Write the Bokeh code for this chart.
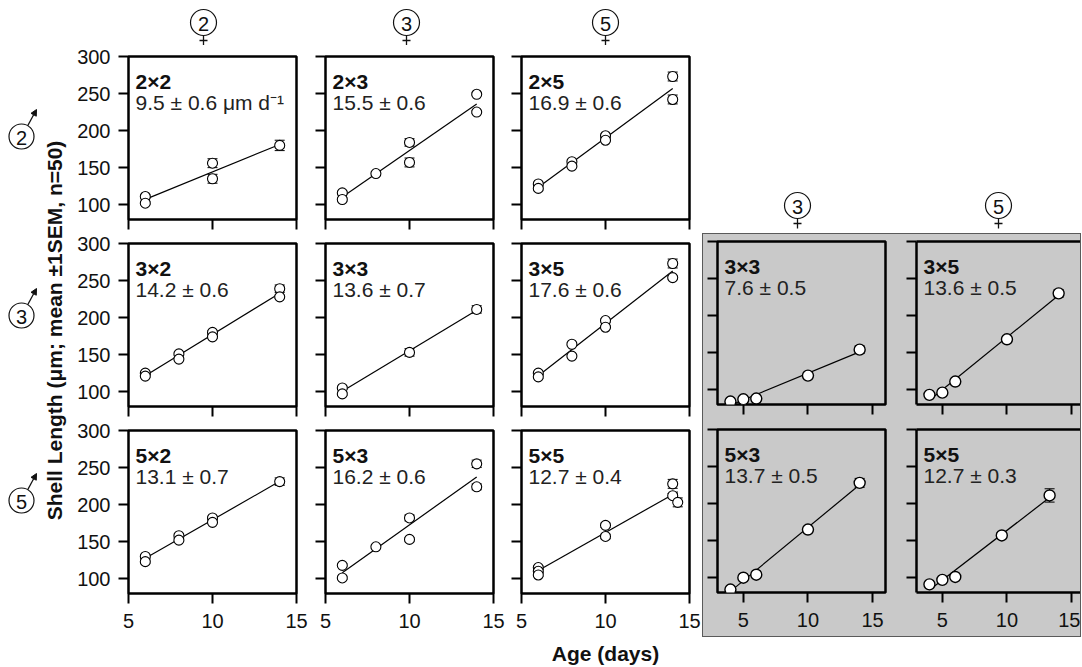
import numpy as np
from bokeh.plotting import figure
from bokeh.models import (Range1d, FixedTicker, ColumnDataSource, Whisker, TeeHead,
                          LinearAxis, Arrow, NormalHead, Spacer)
from bokeh.layouts import row, column
from bokeh.embed import file_html
from bokeh.resources import INLINE
from bokeh.core.properties import value

# ---------------- data (age in days, shell length in um, SEM) ----------------
A_22 = [6, 6, 10, 10, 14]
L_22 = [111, 102, 156, 135, 180]
E_22 = [2, 2, 6, 6, 7]

A_23 = [6, 6, 8, 10, 10, 14, 14]
L_23 = [116, 107, 142, 184, 157, 249, 225]
E_23 = [2, 2, 2, 5, 6, 2, 2]

A_25 = [6, 6, 8, 8, 10, 10, 14, 14]
L_25 = [128, 122, 158, 152, 193, 187, 273, 242]
E_25 = [2, 2, 2, 2, 2, 2, 6, 6]

A_32 = [6, 6, 8, 8, 10, 10, 14, 14]
L_32 = [125, 121, 151, 144, 180, 174, 239, 228]
E_32 = [2, 2, 2, 2, 2, 2, 5, 2]

A_33 = [6, 6, 10, 14]
L_33 = [105, 97, 153, 211]
E_33 = [2, 2, 5, 5]

A_35 = [6, 6, 8, 8, 10, 10, 14, 14]
L_35 = [125, 120, 164, 148, 196, 187, 273, 254]
E_35 = [2, 2, 2, 2, 2, 2, 6, 2]

A_52 = [6, 6, 8, 8, 10, 10, 14]
L_52 = [130, 123, 158, 152, 182, 176, 231]
E_52 = [2, 2, 2, 2, 2, 2, 5]

A_53 = [6, 6, 8, 10, 10, 14, 14]
L_53 = [118, 101, 143, 182, 153, 255, 224]
E_53 = [2, 2, 2, 4, 2, 5, 4]

A_55 = [6, 6, 6, 10, 10, 14, 14, 14.3]
L_55 = [115, 110, 105, 172, 157, 228, 212, 203]
E_55 = [2, 2, 2, 3, 3, 6, 3, 6]

# shaded (second experiment) panels
AG_33 = [4, 5, 6, 10, 14]
LG_33 = [84, 87, 88, 119, 154]
EG_33 = [1, 1, 2, 4, 5]

AG_35 = [4, 5, 6, 10, 14]
LG_35 = [93, 96, 111, 168, 230]
EG_35 = [1, 1, 2, 4, 5]

AG_53 = [4, 5, 6, 10, 14]
LG_53 = [84, 100, 104, 165, 228]
EG_53 = [1, 1, 2, 4, 6]

AG_55 = [4, 5, 6, 9.6, 13.3]
LG_55 = [91, 97, 101, 157, 211]
EG_55 = [1, 1, 2, 4, 9]

NAMES = ["2×2", "2×3", "2×5", "3×2", "3×3", "3×5", "5×2", "5×3", "5×5"]
RATES = ["9.5 ± 0.6 μm d⁻¹", "15.5 ± 0.6", "16.9 ± 0.6", "14.2 ± 0.6", "13.6 ± 0.7",
         "17.6 ± 0.6", "13.1 ± 0.7", "16.2 ± 0.6", "12.7 ± 0.4"]
G_NAMES = ["3×3", "3×5", "5×3", "5×5"]
G_RATES = ["7.6 ± 0.5", "13.6 ± 0.5", "13.7 ± 0.5", "12.7 ± 0.3"]

FEMALE_LEFT = ["2", "3", "5"]
FEMALE_GRAY = ["3", "5"]
MALE = ["2", "3", "5"]

Y_TICKS = [100, 150, 200, 250, 300]
X_TICKS = [5, 10, 15]
Y_LIM = (80, 300)
LEFT_X = (5, 15)
GRAY_X = (3, 16)

Y_TITLE = "Shell Length (μm; mean ±1SEM, n=50)"
X_TITLE = "Age (days)"

# ---------------- styling ----------------
FONT = "Liberation Sans"
INK = "#111111"
GRAY = "#c9c9c9"
FRAME_W, FRAME_H = 168, 163


def style_axis(ax, ticks, show, standoff, line):
    ax.ticker = FixedTicker(ticks=ticks)
    ax.major_tick_in = 0
    ax.major_tick_out = 10
    ax.major_tick_line_width = 2
    ax.major_tick_line_color = "black"
    ax.minor_tick_line_color = None
    ax.axis_line_color = "black" if line else None
    ax.axis_line_width = 2.5
    ax.major_label_text_font = FONT
    ax.major_label_text_font_size = "20px"
    ax.major_label_standoff = standoff
    ax.major_label_text_color = INK if show else None


def panel(ages, lens, sems, name, rate, xlim, frame_w, bl, br, bt, bb,
          ylab=False, xlab=False, gray=False, cut=False):
    bg = GRAY if gray else "white"
    x0 = xlim[0]
    ppx = FRAME_W / (xlim[1] - xlim[0])
    x1 = x0 + frame_w / ppx
    p = figure(width=bl + frame_w + br, height=bt + FRAME_H + bb,
               x_range=Range1d(x0, x1), y_range=Range1d(*Y_LIM),
               output_backend="svg", toolbar_location=None,
               min_border=0, min_border_left=bl, min_border_right=br,
               min_border_top=bt, min_border_bottom=bb,
               background_fill_color=bg, border_fill_color=bg,
               outline_line_color=None if cut else "black", outline_line_width=2.5)
    p.grid.visible = False
    style_axis(p.xaxis[0], X_TICKS, xlab, 10, cut)
    style_axis(p.yaxis[0], Y_TICKS, ylab, 8, cut)
    if cut:
        top = LinearAxis(ticker=FixedTicker(ticks=[]), axis_line_width=2.5,
                         axis_line_color="black", major_label_text_color=None,
                         major_tick_out=0, major_tick_in=0,
                         minor_tick_line_color=None)
        p.add_layout(top, "above")

    a = np.array(ages, dtype=float)
    l = np.array(lens, dtype=float)
    e = np.array(sems, dtype=float)
    src = ColumnDataSource(dict(x=a, y=l, upper=l + e, lower=l - e))
    p.add_layout(Whisker(source=src, base="x", upper="upper", lower="lower",
                         dimension="height", line_color="black", line_width=1,
                         upper_head=TeeHead(size=10, line_color="black", line_width=1),
                         lower_head=TeeHead(size=10, line_color="black", line_width=1),
                         level="underlay"))
    slope, icpt = np.polyfit(a, l, 1)
    xs = np.array([a.min(), a.max()])
    p.line(xs, icpt + slope * xs, line_color="black", line_width=1.2)
    p.scatter("x", "y", source=src, marker="circle", size=11 if gray else 10,
              fill_color="white", line_color="black", line_width=1.4 if gray else 1.1)

    ppy = FRAME_H / (Y_LIM[1] - Y_LIM[0])
    tx = x0 + 7 / ppx
    p.text(x=[tx], y=[Y_LIM[1] - 25 / ppy], text=[name], text_font=value(FONT),
           text_font_style="bold", text_font_size="21px", text_color=INK,
           text_align="left", text_baseline="alphabetic")
    p.text(x=[tx], y=[Y_LIM[1] - 46 / ppy], text=[rate], text_font=value(FONT),
           text_font_size="21px", text_color="#222222",
           text_align="left", text_baseline="alphabetic")
    return p


def blank(w, h):
    p = figure(width=w, height=h, x_range=Range1d(0, w), y_range=Range1d(h, 0),
               output_backend="svg", toolbar_location=None, min_border=0,
               outline_line_color=None, background_fill_color="white",
               border_fill_color="white", x_axis_type=None, y_axis_type=None)
    p.grid.visible = False
    return p


def female(p, cx, cy, num):
    r = 13
    p.scatter([cx], [cy], marker="circle", size=2 * r, fill_color=None,
              line_color=INK, line_width=1.2)
    p.text([cx], [cy + 1], [num], text_align="center", text_baseline="middle",
           text_font=value(FONT), text_font_size="20px", text_color=INK)
    p.segment([cx, cx - 4], [cy + r, cy + r + 5], [cx, cx + 4], [cy + r + 10, cy + r + 5],
              line_color=INK, line_width=1.3)


def male(p, cx, cy, num):
    r = 12.5
    p.scatter([cx], [cy], marker="circle", size=2 * r, fill_color=None,
              line_color=INK, line_width=1.2)
    p.text([cx], [cy + 1], [num], text_align="center", text_baseline="middle",
           text_font=value(FONT), text_font_size="20px", text_color=INK)
    p.add_layout(Arrow(end=NormalHead(size=6, fill_color=INK, line_color=INK),
                       x_start=cx + r * 0.5, y_start=cy - r * 0.87,
                       x_end=cx + 15, y_end=cy - 27, line_color=INK, line_width=1.2))


# ---------------- left block: 3 x 3 ----------------
LEFT_DATA = [(A_22, L_22, E_22), (A_23, L_23, E_23), (A_25, L_25, E_25),
             (A_32, L_32, E_32), (A_33, L_33, E_33), (A_35, L_35, E_35),
             (A_52, L_52, E_52), (A_53, L_53, E_53), (A_55, L_55, E_55)]
COL_BORDERS = [(58, 15), (14, 14), (14, 14)]
ROW_BORDERS = [(11, 11), (13, 11), (13, 44)]

rows = []
for r in range(3):
    figs = []
    for c in range(3):
        k = r * 3 + c
        a, l, e = LEFT_DATA[k]
        bl, br = COL_BORDERS[c]
        bt, bb = ROW_BORDERS[r]
        figs.append(panel(a, l, e, NAMES[k], RATES[k], LEFT_X, FRAME_W, bl, br, bt, bb,
                          ylab=(c == 0), xlab=(r == 2)))
    rows.append(row(*figs, spacing=0))

T = blank(633, 45)
for cx, num in zip([133, 336, 535], FEMALE_LEFT):
    female(T, cx, 22, num)

# strip under the bottom row carrying the x-axis title (centred on column 3)
B = blank(633, 29)
B.text([535], [16], [X_TITLE], text_align="center", text_baseline="alphabetic",
       text_font=value(FONT), text_font_style="bold", text_font_size="21px",
       text_color=INK)

left_block = column(T, *rows, B, spacing=0)

# ---------------- shaded block: 2 x 2 ----------------
GRAY_DATA = [(AG_33, LG_33, EG_33), (AG_35, LG_35, EG_35),
             (AG_53, LG_53, EG_53), (AG_55, LG_55, EG_55)]
G_COLS = [(14, 16, FRAME_W, False), (15, 0, 164, True)]
G_ROWS = [(7, 19), (6, 44)]
g_rows = []
for r in range(2):
    figs = []
    for c in range(2):
        k = r * 2 + c
        a, l, e = GRAY_DATA[k]
        bl, br, fw, cut = G_COLS[c]
        bt, bb = G_ROWS[r]
        figs.append(panel(a, l, e, G_NAMES[k], G_RATES[k], GRAY_X, fw, bl, br, bt, bb,
                          ylab=False, xlab=(r == 1), gray=True, cut=cut))
    g_rows.append(row(*figs, spacing=0, styles={"background-color": GRAY}))

gray_block = column(*g_rows, spacing=0,
                    styles={"outline": "1px solid #5a5a5a", "background-color": GRAY})

TR = blank(377, 234)
for cx, num in zip([94, 295], FEMALE_GRAY):
    female(TR, cx, 205, num)

right_block = column(TR, gray_block, Spacer(width=377, height=30), spacing=0)

# ---------------- left strip: male symbols and y title ----------------
L = blank(70, 666)
for cy, num in zip([136, 315, 500], MALE):
    male(L, 21, cy, num)
L.text([54], [330], [Y_TITLE], angle=np.pi / 2, text_align="center",
       text_baseline="middle", text_font=value(FONT), text_font_style="bold",
       text_font_size="21px", text_color=INK)

layout = row(L, left_block, right_block, spacing=0)

open("out.html", "w").write(file_html(layout, INLINE))
